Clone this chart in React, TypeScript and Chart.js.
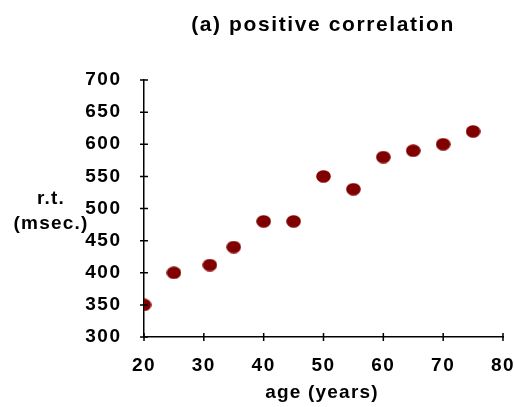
import React, { useEffect, useRef } from "react";
import { Chart, registerables } from "chart.js";

Chart.register(...registerables);

const TITLE = "(a) positive correlation";
const X_TITLE = "age (years)";
const Y_TITLE_LINES = ["r.t.", "(msec.)"];

const ages = [20, 25, 31, 35, 40, 45, 50, 55, 60, 65, 70, 75];
const reactionTimes = [350, 400, 412, 440, 480, 480, 550, 530, 580, 590, 600, 620];

const xTickMin = 20;
const xTickMax = 80;
const xTickStep = 10;
const yTickMin = 300;
const yTickMax = 700;
const yTickStep = 50;

const POINT_COLOR = "#800000";
const FONT = "'Liberation Sans', Arial, sans-serif";

function makeEllipse(): HTMLCanvasElement {
  const c = document.createElement("canvas");
  c.width = 15;
  c.height = 13;
  const g = c.getContext("2d")!;
  g.fillStyle = POINT_COLOR;
  g.beginPath();
  g.ellipse(7.5, 6.5, 7.3, 6.3, 0, 0, Math.PI * 2);
  g.fill();
  return c;
}

const decorPlugin = {
  id: "decor",
  beforeDraw(chart: any) {
    chart.ctx.letterSpacing = "1.5px";
  },
  afterDraw(chart: any) {
    const ctx = chart.ctx as CanvasRenderingContext2D;
    const xs = chart.scales.x;
    const ys = chart.scales.y;
    const area = chart.chartArea;
    ctx.save();
    ctx.strokeStyle = "#000";
    ctx.lineWidth = 1.5;
    ctx.beginPath();
    xs.ticks.forEach((t: any) => {
      const px = xs.getPixelForValue(t.value);
      ctx.moveTo(px, area.bottom - 4);
      ctx.lineTo(px, area.bottom + 4);
    });
    ys.ticks.forEach((t: any) => {
      const py = ys.getPixelForValue(t.value);
      ctx.moveTo(area.left - 4, py);
      ctx.lineTo(area.left + 4, py);
    });
    ctx.stroke();

    ctx.fillStyle = "#000";
    ctx.textBaseline = "alphabetic";
    ctx.textAlign = "center";
    (ctx as any).letterSpacing = "1.6px";
    ctx.font = `bold 21px ${FONT}`;
    ctx.fillText(TITLE, 323, 31);
    (ctx as any).letterSpacing = "1.2px";
    ctx.font = `bold 19px ${FONT}`;
    ctx.fillText(X_TITLE, 322, 398);
    ctx.fillText(Y_TITLE_LINES[0], 51, 204);
    ctx.fillText(Y_TITLE_LINES[1], 51, 229);
    ctx.restore();
  },
};

export default function App() {
  const ref = useRef<HTMLCanvasElement | null>(null);
  useEffect(() => {
    document.body.style.margin = "0";
    const canvas = ref.current!;
    const pointImg = makeEllipse();
    const chart = new Chart(canvas, {
      type: "scatter",
      data: {
        datasets: [
          {
            data: ages.map((a, i) => ({ x: a, y: reactionTimes[i] })),
            pointStyle: pointImg as any,
            backgroundColor: POINT_COLOR,
            borderColor: POINT_COLOR,
          },
        ],
      },
      options: {
        responsive: false,
        animation: false,
        layout: { padding: { left: 0, top: 80, right: 12, bottom: 0 } },
        plugins: {
          legend: { display: false },
          title: { display: false },
          tooltip: { enabled: false },
        },
        scales: {
          x: {
            type: "linear",
            min: xTickMin,
            max: xTickMax,
            grid: { display: false },
            border: { display: true, color: "#000", width: 1.5 },
            ticks: {
              stepSize: xTickStep,
              color: "#000",
              padding: 9,
              maxRotation: 0,
              font: { family: FONT, size: 19, weight: "bold" },
            },
            afterFit(scale: any) {
              scale.height = 70;
              scale.paddingLeft = 0;
              scale.paddingRight = 0;
            },
          },
          y: {
            type: "linear",
            min: yTickMin,
            max: yTickMax,
            grid: { display: false },
            border: { display: true, color: "#000", width: 1.5 },
            ticks: {
              stepSize: yTickStep,
              color: "#000",
              padding: 14.5,
              font: { family: FONT, size: 19, weight: "bold" },
            },
            afterFit(scale: any) {
              scale.width = 144;
              scale.paddingTop = 0;
              scale.paddingBottom = 0;
            },
          },
        },
      },
      plugins: [decorPlugin],
    });
    return () => chart.destroy();
  }, []);
  return (
    <div style={{ position: "absolute", left: 0, top: 0, width: 515, height: 407 }}>
      <canvas ref={ref} width={515} height={407} style={{ display: "block" }} />
    </div>
  );
}
